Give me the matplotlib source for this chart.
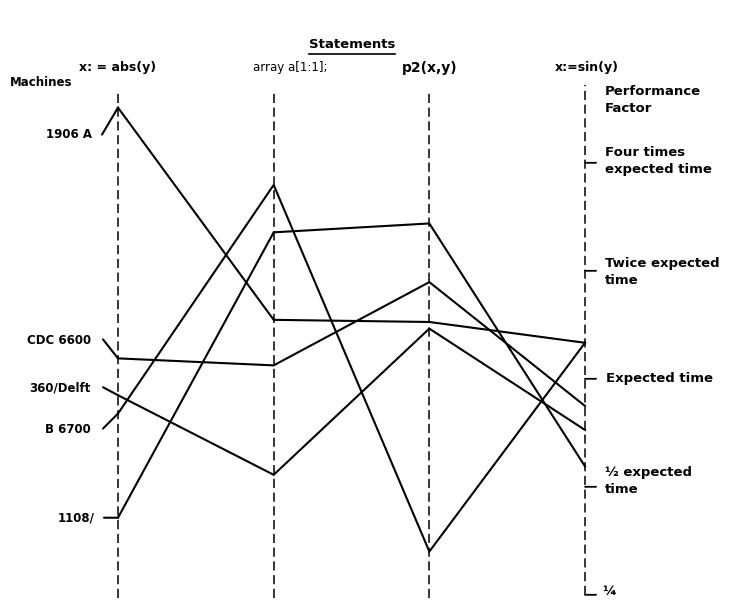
import numpy as np
import matplotlib
matplotlib.use("Agg")
import matplotlib.pyplot as plt
from matplotlib.lines import Line2D

# ---------------- data ----------------
statements = ["x: = abs(y)", "array a[1:1];", "p2(x,y)", "x:=sin(y)"]
machines = ["1906 A", "CDC 6600", "360/Delft", "B 6700", "1108/"]
perf_1906A = [5.7, 1.46, 1.44, 1.26]
perf_CDC6600 = [1.14, 1.09, 1.86, 0.84]
perf_360Delft = [0.90, 0.54, 1.38, 0.72]
perf_B6700 = [0.80, 3.47, 0.33, 1.26]
perf_1108 = [0.41, 2.56, 2.71, 0.57]
series = [perf_1906A, perf_CDC6600, perf_360Delft, perf_B6700, perf_1108]
factor_ticks = [4, 2, 1, 0.5, 0.25]
factor_labels = ["Four times\nexpected time", "Twice expected\ntime",
                 "Expected time", "½ expected\ntime", "¼"]

# ---------------- figure ----------------
W, H, DPI = 730, 600, 100
fig = plt.figure(figsize=(W / DPI, H / DPI), dpi=DPI)
ax = fig.add_axes([0, 0, 1, 1])
ax.set_yscale("log", base=2)
px_unit = 155.67          # pixels per statement step
x0_px = 118
ax.set_xlim(-x0_px / px_unit, (W - x0_px) / px_unit)
exp_px, px_oct = 378.8, 108.0
ax.set_ylim(2 ** (-(H - exp_px) / px_oct), 2 ** (exp_px / px_oct))
ax.axis("off")

FB = dict(family="DejaVu Sans", fontweight="bold", color="black")

# dashed statement axes
xs = np.arange(len(statements))
lo, hi = np.log2(ax.get_ylim())
def frac(v):
    return (np.log2(v) - lo) / (hi - lo)
for i in xs[:-1]:
    ax.axvline(i, ymin=0.003, ymax=1 - 93 / H, color="black", lw=1.1,
               ls=(0, (6, 3)))
ax.axvline(xs[-1], ymin=frac(factor_ticks[-1]), ymax=1 - 85 / H,
           color="black", lw=1.1, ls=(0, (6, 3)))

# machine lines
for vals in series:
    ax.plot(xs, vals, color="black", lw=1.5, solid_joinstyle="miter")

# machine labels with small leader ticks
tick_off = [(-16, -27), (-15, 19), (-15, 8), (-15, -15), (-14, 0)]
label_off = [(-26, -27), (-27, 18), (-27, 7), (-27, -16), (-23, 0)]
for name, vals, toff, loff in zip(machines, series, tick_off, label_off):
    ax.annotate("", xy=(0, vals[0]), xytext=toff, textcoords="offset pixels",
                arrowprops=dict(arrowstyle="-", lw=1.5, color="black",
                                shrinkA=0, shrinkB=0))
    ax.annotate(name, xy=(0, vals[0]), xytext=loff, textcoords="offset pixels",
                ha="right", va="center", fontsize=8.5, **FB)

# right-hand performance factor scale
lab_dy = [2, -1, 0, 6, 3]
lab_dx = [20, 20, 21, 20, 17]
for f, lab, dy, dx in zip(factor_ticks, factor_labels, lab_dy, lab_dx):
    ax.annotate("", xy=(xs[-1], f), xytext=(11, 0), textcoords="offset pixels",
                arrowprops=dict(arrowstyle="-", lw=1.3, color="black",
                                shrinkA=0, shrinkB=0))
    ax.annotate(lab, xy=(xs[-1], f), xytext=(dx, dy), textcoords="offset pixels",
                ha="left", va="center", fontsize=9.5, linespacing=1.35, **FB)

# column headings
head_sizes = [9, 8.5, 10, 9]
head_dx = [0, 17, 0, 2]
for i, (s, fs, dx) in enumerate(zip(statements, head_sizes, head_dx)):
    kw = dict(FB)
    if i == 1:
        kw["fontweight"] = "normal"
    t = ax.text(i + dx / px_unit, 1 - 68 / H, s,
                transform=ax.get_xaxis_transform(),
                ha="center", va="center", fontsize=fs, **kw)

ax.text(10 / W, 1 - 82 / H, "Machines", transform=fig.transFigure,
        ha="left", va="center", fontsize=8.5, **FB)
ax.text(605 / W, 1 - 100 / H, "Performance\nFactor", transform=fig.transFigure,
        ha="left", va="center", fontsize=9.5, linespacing=1.35, **FB)

title = fig.text(352 / W, 1 - 45 / H, "Statements", ha="center", va="center",
                 fontsize=9.5, **FB)
fig.canvas.draw()
bb = title.get_window_extent()
inv = fig.transFigure.inverted()
(ux0, uy), (ux1, _) = inv.transform([(bb.x0, bb.y0 - 2), (bb.x1, bb.y0 - 2)])
fig.add_artist(Line2D([ux0, ux1], [uy, uy], transform=fig.transFigure,
                      color="black", lw=1.2))

fig.savefig("out.png", dpi=DPI, facecolor="white")
